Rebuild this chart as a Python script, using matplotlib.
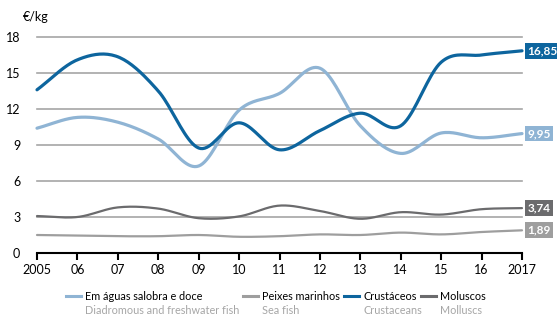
import numpy as np
import matplotlib.pyplot as plt

plt.rcParams['font.family'] = ['Lato', 'DejaVu Sans']

# data
years = np.arange(2005, 2018)
year_labels = ['2005', '06', '07', '08', '09', '10', '11', '12', '13', '14', '15', '16', '2017']
agua_doce = [10.4, 11.3, 10.9, 9.5, 7.25, 11.9, 13.3, 15.4, 10.6, 8.3, 10.0, 9.6, 9.95]
peixes_marinhos = [1.5, 1.45, 1.4, 1.4, 1.5, 1.35, 1.4, 1.55, 1.5, 1.7, 1.55, 1.75, 1.89]
crustaceos = [13.6, 16.1, 16.35, 13.5, 8.75, 10.85, 8.6, 10.2, 11.65, 10.6, 15.9, 16.5, 16.85]
moluscos = [3.08, 3.0, 3.8, 3.7, 2.9, 3.05, 3.95, 3.5, 2.85, 3.4, 3.2, 3.65, 3.74]
end_labels = ['9,95', '1,89', '16,85', '3,74']
names_pt = ['Em águas salobra e doce', 'Peixes marinhos', 'Crustáceos', 'Moluscos']
names_en = ['Diadromous and freshwater fish', 'Sea fish', 'Crustaceans', 'Molluscs']
colors = ['#8fb4d4', '#9e9e9e', '#0d659e', '#6b6b6d']
widths = [2.3, 1.6, 2.3, 1.6]


def smooth(x, y, n=20):
    # Catmull-Rom curve through the points (Excel style smoothing)
    x = np.asarray(x, float)
    y = np.asarray(y, float)
    px = np.concatenate([[2 * x[0] - x[1]], x, [2 * x[-1] - x[-2]]])
    py = np.concatenate([[2 * y[0] - y[1]], y, [2 * y[-1] - y[-2]]])
    xs, ys = [], []
    t = np.linspace(0, 1, n, endpoint=False)
    for i in range(1, len(px) - 2):
        for p, out in ((px, xs), (py, ys)):
            p0, p1, p2, p3 = p[i - 1], p[i], p[i + 1], p[i + 2]
            out.append(0.5 * ((2 * p1) + (-p0 + p2) * t +
                              (2 * p0 - 5 * p1 + 4 * p2 - p3) * t ** 2 +
                              (-p0 + 3 * p1 - 3 * p2 + p3) * t ** 3))
    xs.append([x[-1]])
    ys.append([y[-1]])
    return np.concatenate(xs), np.concatenate(ys)


fig = plt.figure(figsize=(5.57, 3.15), dpi=100)
ax = fig.add_axes([37 / 557, 62 / 315, 485 / 557, 216 / 315])

ax.set_xlim(2005, 2017)
ax.set_ylim(0, 18)
ax.set_yticks(range(0, 19, 3))
for v in range(3, 19, 3):
    ax.axhline(v, color='#a6a6a6', lw=1.2, zorder=1, clip_on=False)

series = [agua_doce, peixes_marinhos, crustaceos, moluscos]
draw_order = [1, 3, 0, 2]
for i in draw_order:
    sx, sy = smooth(years, series[i])
    ax.plot(sx, sy, color=colors[i], lw=widths[i], zorder=3 + i,
            solid_capstyle='round', clip_on=False)

for i in range(4):
    ax.annotate(end_labels[i], xy=(2017, series[i][-1]), xytext=(4, 0),
                textcoords='offset points', va='center', ha='left',
                fontsize=8.5, fontweight='bold', color='white',
                bbox=dict(boxstyle='square,pad=0.2', fc=colors[i], ec='none'),
                annotation_clip=False)

for s in ['top', 'right', 'left']:
    ax.spines[s].set_visible(False)
ax.spines['bottom'].set_color('black')
ax.spines['bottom'].set_linewidth(1.5)
ax.spines['bottom'].set_zorder(10)
ax.set_xticks(years)
ax.set_xticklabels(year_labels)
ax.tick_params(axis='x', direction='out', length=5, width=1.5, color='black',
               labelsize=9, pad=3)
ax.tick_params(axis='y', length=0, labelsize=9, pad=12)

fig.text(23 / 557, 1 - 17 / 315, '€/kg', fontsize=9, va='center', ha='left')

# legend
leg_x = [66, 243, 344, 421]
leg_y = 1 - 296 / 315
sub_y = 1 - 311 / 315
for i in range(4):
    x0 = leg_x[i] / 557
    fig.add_artist(plt.Line2D([x0, x0 + 15 / 557], [leg_y, leg_y],
                              color=colors[i], lw=2.2, transform=fig.transFigure))
    fig.text(x0 + 19 / 557, leg_y, names_pt[i], fontsize=7.8, va='center', ha='left')
    fig.text(x0 + 19 / 557, sub_y, names_en[i], fontsize=7.8, va='center', ha='left',
             color='#a6a6a6')

fig.savefig('out.png', dpi=100)
